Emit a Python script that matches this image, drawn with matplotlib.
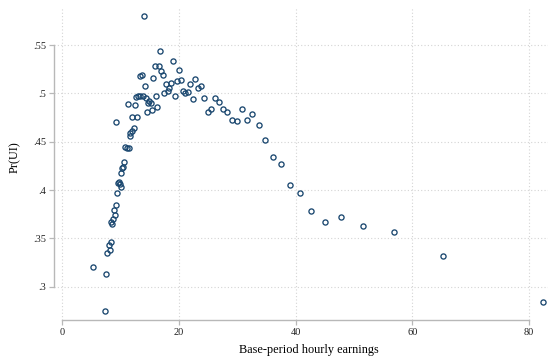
import matplotlib
matplotlib.use("Agg")
import matplotlib.pyplot as plt
from matplotlib.ticker import FuncFormatter

# binned means: base-period hourly earnings vs. probability of UI receipt
earnings = [5.21, 7.54, 7.27, 7.71, 8.18, 7.95, 8.35, 8.57, 8.30, 8.64,
            9.03, 8.81, 9.15, 9.43, 10.11, 9.55, 9.89, 9.72, 10.11, 10.23,
            10.35, 10.63, 10.80, 11.09, 11.38, 11.66, 11.52, 11.95, 12.24, 12.00,
            12.72, 9.24, 11.26, 12.41, 12.58, 12.93, 13.32, 13.78, 14.35, 13.32,
            13.72, 14.13, 14.01, 15.81, 16.53, 16.75, 16.92, 17.21, 15.60, 18.93,
            19.92, 17.78, 18.58, 19.58, 20.30, 18.29, 18.07, 17.44, 19.24, 16.06,
            14.92, 15.16, 14.74, 16.24, 15.38, 14.56, 20.69, 21.09, 21.50, 21.89,
            22.75, 23.26, 23.81, 22.32, 24.33, 24.93, 25.46, 26.14, 26.81, 27.50,
            28.24, 29.04, 29.92, 30.77, 31.63, 32.59, 33.64, 34.75, 36.07, 37.44,
            39.00, 40.70, 42.64, 45.04, 47.83, 51.55, 56.82, 65.22, 82.46]
pr_ui = [0.3204, 0.3134, 0.2749, 0.3346, 0.3380, 0.3431, 0.3466, 0.3649, 0.3669, 0.3697,
         0.3739, 0.3793, 0.3842, 0.3972, 0.4034, 0.4070, 0.4062, 0.4086, 0.4179, 0.4228,
         0.4241, 0.4287, 0.4442, 0.4438, 0.4438, 0.4559, 0.4595, 0.4614, 0.4639, 0.4755,
         0.4755, 0.4707, 0.4893, 0.4882, 0.4959, 0.4968, 0.4968, 0.4970, 0.4957, 0.5180,
         0.5193, 0.5079, 0.5803, 0.5288, 0.5283, 0.5440, 0.5234, 0.5190, 0.5162, 0.5338,
         0.5244, 0.5092, 0.5112, 0.5125, 0.5136, 0.5055, 0.5024, 0.5001, 0.4975, 0.4973,
         0.4924, 0.4897, 0.4897, 0.4860, 0.4833, 0.4807, 0.5028, 0.5004, 0.5014, 0.5094,
         0.5146, 0.5052, 0.5078, 0.4942, 0.4957, 0.4807, 0.4840, 0.4954, 0.4913, 0.4836,
         0.4810, 0.4724, 0.4717, 0.4836, 0.4724, 0.4788, 0.4669, 0.4518, 0.4344, 0.4272,
         0.4057, 0.3966, 0.3786, 0.3669, 0.3718, 0.3625, 0.3563, 0.3318, 0.2845]

xticks = [0, 20, 40, 60, 80]
yticks = [0.3, 0.35, 0.4, 0.45, 0.5, 0.55]

plt.rcParams['font.family'] = ['Liberation Serif', 'DejaVu Serif']

fig = plt.figure(figsize=(5.48, 3.56), dpi=100)
W, H = 548.0, 356.0
ax = fig.add_axes([53.5 / W, (H - 320) / H, (552 - 53.5) / W, (320 - 8) / H])

ax.plot(earnings, pr_ui, linestyle='none', marker='o', ms=3.7, mew=0.95,
        mfc='none', mec='#1a476f', zorder=3)

ax.set_xlim(-1.51, 83.95)
ax.set_ylim(0.2656, 0.5883)
ax.set_xticks(xticks)
ax.set_yticks(yticks)
ax.yaxis.set_major_formatter(FuncFormatter(lambda v, p: ('%g' % v).lstrip('0')))

ax.grid(True, color='#d4d4d4', linestyle=(0, (1, 2)), linewidth=0.8)
ax.set_axisbelow(True)

for s in ['top', 'right']:
    ax.spines[s].set_visible(False)
axis_grey = '#b8b8b8'
ax.spines['left'].set_bounds(0.3, 0.55)
ax.spines['bottom'].set_bounds(0, 80)
ax.spines['left'].set_color(axis_grey)
ax.spines['bottom'].set_color(axis_grey)
ax.spines['left'].set_linewidth(1.0)
ax.spines['bottom'].set_linewidth(1.0)
ax.tick_params(axis='both', color=axis_grey, length=3.6, width=0.9,
               labelsize=7.5, labelcolor='#222222')
ax.tick_params(axis='y', pad=1.5)
ax.tick_params(axis='x', pad=2.0)

ax.set_xlabel('Base-period hourly earnings', fontsize=8.8, va='top')
ax.xaxis.set_label_coords((309 - 53.5) / 498.5, -0.077)
ax.set_ylabel('Pr(UI)', fontsize=8.8, va='center')
ax.yaxis.set_label_coords((15 - 53.5) / 498.5, (320 - 157) / 312.0)

fig.savefig('out.png', dpi=100)
